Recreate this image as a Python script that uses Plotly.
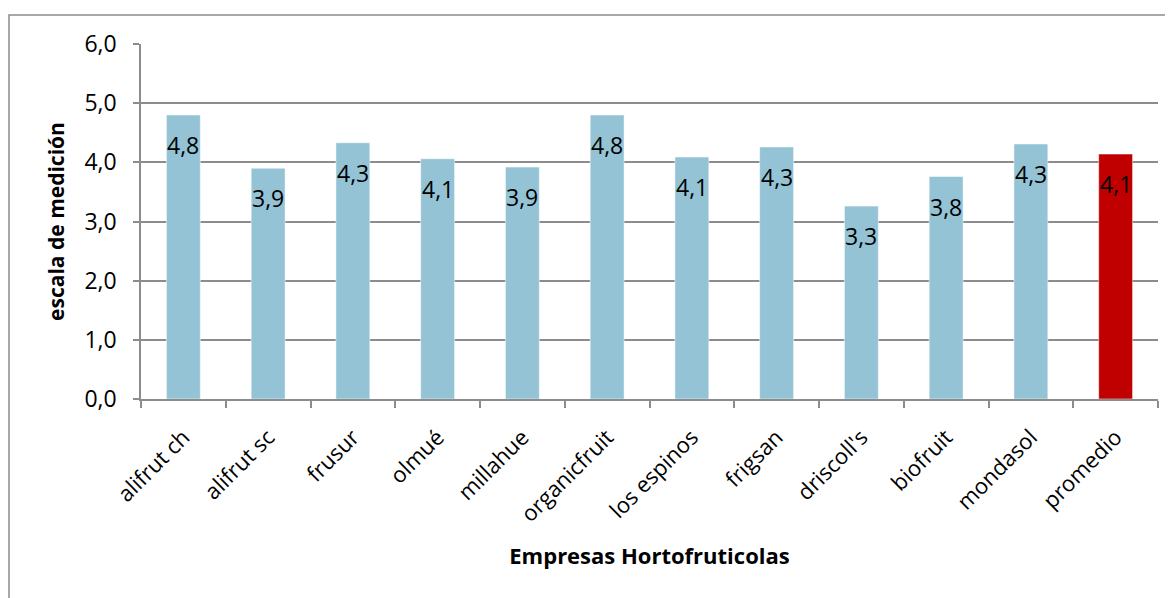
import plotly.graph_objects as go

categories = ["alifrut ch", "alifrut sc", "frusur", "olmué", "millahue", "organicfruit",
              "los espinos", "frigsan", "driscoll's", "biofruit", "mondasol", "promedio"]
values = [4.80, 3.90, 4.33, 4.06, 3.92, 4.80, 4.09, 4.26, 3.26, 3.76, 4.31, 4.14]
colors = ["#93C3D5"] * 11 + ["#C00000"]

FONT = "'Open Sans', sans-serif"

fig = go.Figure()
fig.add_trace(go.Bar(
    x=categories, y=values,
    marker=dict(color=colors, line=dict(color="rgba(255,255,255,0.5)", width=1)),
    width=0.4, hoverinfo="x+y",
))

for c, v in zip(categories, values):
    fig.add_annotation(x=c, y=v, text=f"{round(v, 1):.1f}".replace(".", ","), showarrow=False,
                       yanchor="middle", yshift=-30,
                       font=dict(family=FONT, size=23, color="black"))

grid = "#8c8c8c"
fig.update_layout(
    width=1173, height=598,
    margin=dict(l=133, r=23, t=36, b=207, autoexpand=False),
    paper_bgcolor="white", plot_bgcolor="white",
    separators=",.",
    showlegend=False,
    font=dict(family=FONT, color="black"),
    xaxis=dict(
        type="category", tickson="boundaries", ticks="outside", ticklen=7, tickcolor=grid,
        tickwidth=1.5, showline=True, linecolor=grid, linewidth=1.5, showgrid=False,
        tickangle=-45, tickfont=dict(size=22, family=FONT, color="black"), automargin=False,
        ticklabelstandoff=15,
        title=dict(text="<b>Empresas Hortofruticolas</b>", font=dict(size=22, family=FONT), standoff=22),
    ),
    yaxis=dict(
        range=[0, 6], dtick=1, tickformat=".1f", ticks="outside", ticklen=6, tickcolor=grid,
        tickwidth=1.5, showline=True, linecolor=grid, linewidth=1.5, automargin=False,
        showgrid=True, gridcolor=grid, gridwidth=1.5, zeroline=False,
        ticklabelstandoff=12,
        tickfont=dict(size=23, family=FONT, color="black"),
        title=dict(text="<b>escala de medición</b>", font=dict(size=21, family=FONT), standoff=14),
    ),
)

# outer chart frame
fig.add_shape(type="rect", xref="paper", yref="paper",
              x0=-0.1298, y0=-1.0, x1=1.2, y1=1.0817,
              line=dict(color=grid, width=1.5), fillcolor="rgba(0,0,0,0)", layer="below")

fig.write_html("out.html")
